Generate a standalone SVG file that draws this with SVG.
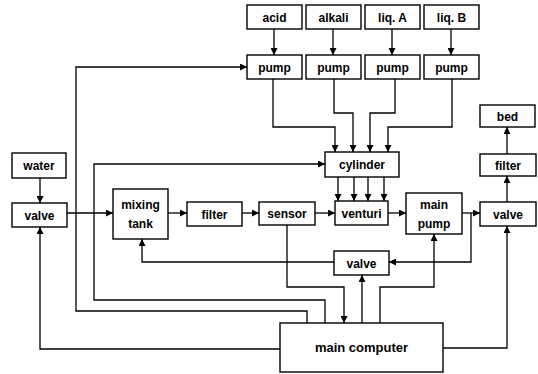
<svg xmlns="http://www.w3.org/2000/svg" width="538" height="374" viewBox="0 0 538 374">
<defs>
<marker id="a" viewBox="0 0 10 10" refX="10" refY="5" markerWidth="8" markerHeight="7" orient="auto" markerUnits="userSpaceOnUse"><path d="M0,0 L10,5 L0,10 z" fill="#000"/></marker>
<style>
rect{fill:#fff;stroke:#000;stroke-width:1.4}
text{font-family:"Liberation Sans",Arial,sans-serif;font-weight:bold;font-size:12px;text-anchor:middle;fill:#000}
.c path{fill:none;stroke:#000;stroke-width:1.3;marker-end:url(#a)}
.c path.n{marker-end:none}
</style>
</defs>
<rect x="0" y="0" width="538" height="374" style="fill:#fff;stroke:none"/>
<g class="c" id="connectors">
<path d="M274,29 V55"/>
<path d="M333,29 V55"/>
<path d="M392,29 V55"/>
<path d="M451,29 V55"/>
<path d="M273,79 V127 H335 V152"/>
<path d="M334,79 V113 H353 V152"/>
<path d="M395,79 V113 H370 V152"/>
<path d="M452,79 V127 H388 V152"/>
<path d="M338,177 V201"/>
<path d="M354,177 V201"/>
<path d="M368,177 V201"/>
<path d="M384,177 V201"/>
<path d="M40,178 V203"/>
<path d="M67,213 H113"/>
<path d="M168,213 H187"/>
<path d="M242,213 H259"/>
<path d="M315,213 H335"/>
<path d="M388,213 H406"/>
<path d="M462,213 H480"/>
<path d="M471,213 V262 H389"/>
<path d="M334,262 H142 V239"/>
<path d="M362,323 V275"/>
<path d="M287,225 V287 H344 V323"/>
<path d="M380,323 V287 H434 V234"/>
<path d="M443,348 H507 V226"/>
<path d="M507,202 V176"/>
<path d="M507,154 V127"/>
<path d="M280,349 H40 V227"/>
<path d="M307,323 V311 H76 V67 H247"/>
<path d="M325,323 V300 H94 V164 H325"/>
</g>
<g id="acid"><rect x="247" y="5" width="55" height="24"/><text x="274.5" y="21.5">acid</text></g>
<g id="alkali"><rect x="306" y="5" width="55" height="24"/><text x="333.5" y="21.5">alkali</text></g>
<g id="liqA"><rect x="365" y="5" width="55" height="24"/><text x="392.5" y="21.5">liq. A</text></g>
<g id="liqB"><rect x="424" y="5" width="55" height="24"/><text x="451.5" y="21.5">liq. B</text></g>
<g id="pump1"><rect x="247" y="55" width="55" height="24"/><text x="274.5" y="71.5">pump</text></g>
<g id="pump2"><rect x="306" y="55" width="55" height="24"/><text x="333.5" y="71.5">pump</text></g>
<g id="pump3"><rect x="365" y="55" width="55" height="24"/><text x="392.5" y="71.5">pump</text></g>
<g id="pump4"><rect x="424" y="55" width="55" height="24"/><text x="451.5" y="71.5">pump</text></g>
<g id="cylinder"><rect x="325" y="152" width="74" height="25"/><text x="362" y="169">cylinder</text></g>
<g id="bed"><rect x="480" y="105" width="55" height="22"/><text x="507.5" y="120.5">bed</text></g>
<g id="filter2"><rect x="480" y="154" width="56" height="22"/><text x="508" y="169.5">filter</text></g>
<g id="water"><rect x="12" y="153" width="54" height="25"/><text x="39" y="170">water</text></g>
<g id="valve1"><rect x="12" y="203" width="55" height="24"/><text x="39.5" y="219.5">valve</text></g>
<g id="mixing"><rect x="113" y="189" width="55" height="50"/><text x="140.5" y="209">mixing</text><text x="140.5" y="228">tank</text></g>
<g id="filter1"><rect x="187" y="202" width="55" height="24"/><text x="214.5" y="218.5">filter</text></g>
<g id="sensor"><rect x="259" y="202" width="56" height="23"/><text x="287" y="218">sensor</text></g>
<g id="venturi"><rect x="335" y="201" width="53" height="24"/><text x="361.5" y="217.5">venturi</text></g>
<g id="mainpump"><rect x="406" y="193" width="56" height="41"/><text x="434" y="209">main</text><text x="434" y="228">pump</text></g>
<g id="valve3"><rect x="480" y="202" width="56" height="24"/><text x="508" y="218.5">valve</text></g>
<g id="valve2"><rect x="334" y="251" width="55" height="24"/><text x="361.5" y="267.5">valve</text></g>
<g id="computer"><rect x="280" y="323" width="163" height="49"/><text x="361.5" y="352" style="font-size:13px">main computer</text></g>
</svg>
